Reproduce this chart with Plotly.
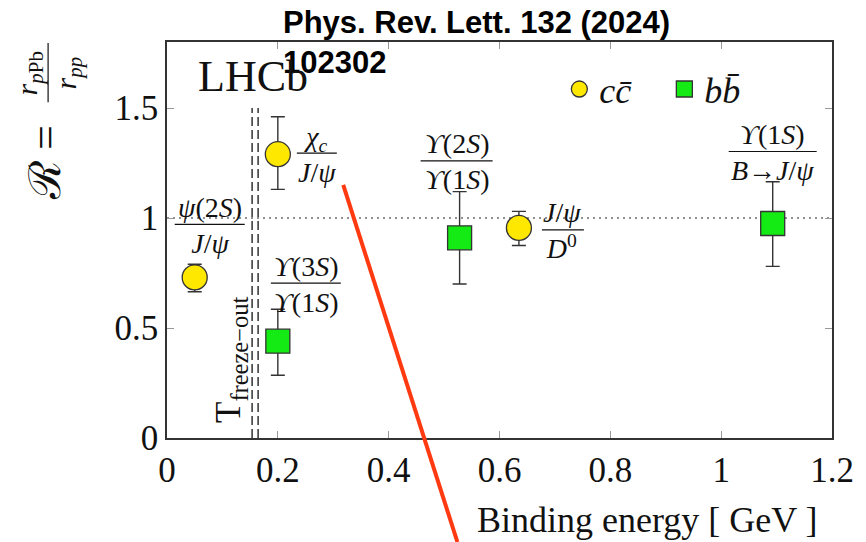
import plotly.graph_objects as go

# ---- data ----
cc_x = [0.05, 0.20, 0.635]
cc_y = [0.73, 1.29, 0.955]
cc_err_plus = [0.06, 0.17, 0.075]
cc_err_minus = [0.065, 0.16, 0.08]
cc_num = ["<i>ψ</i>(2<i>S</i>)", "<i>χ<sub>c</sub></i>", "<i>J</i>/<i>ψ</i>"]
cc_den = ["<i>J</i>/<i>ψ</i>", "<i>J</i>/<i>ψ</i>", "<i>D</i><sup>0</sup>"]

bb_x = [0.20, 0.528, 1.093]
bb_y = [0.44, 0.91, 0.975]
bb_err_plus = [0.145, 0.21, 0.19]
bb_err_minus = [0.155, 0.21, 0.195]
bb_num = ["<i>ϒ</i>(3<i>S</i>)", "<i>ϒ</i>(2<i>S</i>)", "<i>ϒ</i>(1<i>S</i>)"]
bb_den = ["<i>ϒ</i>(1<i>S</i>)", "<i>ϒ</i>(1<i>S</i>)", "<i>B</i>→<i>J</i>/<i>ψ</i>"]

x_ticks = [0, 0.2, 0.4, 0.6, 0.8, 1.0, 1.2]
x_tick_text = ["0", "0.2", "0.4", "0.6", "0.8", "1", "1.2"]
y_ticks = [0, 0.5, 1.0, 1.5]
y_tick_text = ["0", "0.5", "1", "1.5"]

T_FREEZE = 0.159
T_FREEZE_TOP = 1.5
REF_LEVEL = 1.0

SERIF = "Liberation Serif"
YELLOW = "#FFE800"
GREEN = "#14EA14"
EDGE = "#333333"
INK = "#111111"

fig = go.Figure()

fig.add_trace(go.Scatter(
    x=cc_x, y=cc_y, mode="markers", name="<i>cc\u0304</i>",
    marker=dict(symbol="circle", size=25, color=YELLOW, line=dict(color=EDGE, width=1.3)),
    error_y=dict(type="data", symmetric=False, array=cc_err_plus, arrayminus=cc_err_minus,
                 color=EDGE, thickness=1.4, width=7),
))
fig.add_trace(go.Scatter(
    x=bb_x, y=bb_y, mode="markers", name="<i>bb\u0304</i>",
    marker=dict(symbol="square", size=24, color=GREEN, line=dict(color=EDGE, width=1.3)),
    error_y=dict(type="data", symmetric=False, array=bb_err_plus, arrayminus=bb_err_minus,
                 color=EDGE, thickness=1.4, width=7),
))

# reference line at R = 1 (dotted)
fig.add_shape(type="line", xref="paper", x0=0, x1=1, yref="y", y0=REF_LEVEL, y1=REF_LEVEL,
              line=dict(color="#222222", width=1.1, dash="2px,4px"), layer="below")

# double dashed freeze-out line
for off in (-3, 3):
    fig.add_shape(type="line", xref="x", xsizemode="pixel", xanchor=T_FREEZE, x0=off, x1=off,
                  yref="y", y0=0, y1=T_FREEZE_TOP,
                  line=dict(color="#333333", width=1.5, dash="9px,4px"), layer="below")

fig.add_annotation(x=T_FREEZE, y=0.355, xref="x", yref="y", xshift=-24,
                   text="T<sub>freeze−out</sub>", textangle=-90, showarrow=False,
                   font=dict(family=SERIF, size=35, color=INK), xanchor="center", yanchor="middle")

# point labels (fraction: numerator / denominator with a bar)
lab_font = dict(family=SERIF, size=28, color=INK)
# (xshift, yshift, anchor, bar width) in pixels
cc_lab_style = [(15, 52, "center", 70), (18, 0, "left", 40), (22, -3, "left", 42)]
bb_lab_style = [(28, 57, "center", 70), (-3, 76, "center", 72), (0, 71, "center", 88)]

def add_fraction(xv, yv, num, den, style):
    dx, dy, xa, w = style
    fig.add_annotation(x=xv, y=yv, text=num + "<br>" + den, showarrow=False, xshift=dx, yshift=dy,
                       xanchor=xa, yanchor="middle", font=lab_font, align="center")
    if xa == "center":
        bx0, bx1 = dx - w / 2, dx + w / 2
    else:
        bx0, bx1 = dx + 1, dx + 1 + w
    fig.add_shape(type="line", xref="x", yref="y", xsizemode="pixel", ysizemode="pixel",
                  xanchor=xv, yanchor=yv, x0=bx0, x1=bx1, y0=dy + 1, y1=dy + 1,
                  line=dict(color=INK, width=1.2))

for xv, yv, n, d, s in zip(cc_x, cc_y, cc_num, cc_den, cc_lab_style):
    add_fraction(xv, yv, n, d, s)
for xv, yv, n, d, s in zip(bb_x, bb_y, bb_num, bb_den, bb_lab_style):
    add_fraction(xv, yv, n, d, s)

# LHCb
fig.add_annotation(x=0.043, y=0.912, xref="paper", yref="paper", text="LHCb", showarrow=False,
                   xanchor="left", yanchor="middle", font=dict(family=SERIF, size=44, color=INK))

# y-axis label: R = r_pPb / r_pp
fig.add_annotation(x=-0.183, y=0.695, xref="paper", yref="paper", text="ℛ =", textangle=-90,
                   showarrow=False, xanchor="center", yanchor="middle",
                   font=dict(family=SERIF, size=44, color=INK))
fig.add_annotation(x=-0.1788, y=0.921, xref="paper", yref="paper",
                   text="<i>r</i><sub><i>p</i>Pb</sub><br><i>r</i><sub><i>pp</i></sub>",
                   textangle=-90, showarrow=False, xanchor="center", yanchor="middle",
                   font=dict(family=SERIF, size=30, color=INK), align="center")
fig.add_shape(type="line", xref="paper", yref="paper", x0=-0.1788, x1=-0.1788, y0=0.848, y1=0.9975,
              line=dict(color=INK, width=1.2))

# x-axis label
fig.add_annotation(x=0.982, y=-0.207, xref="paper", yref="paper", text="Binding energy [ GeV ]",
                   showarrow=False, xanchor="right", yanchor="middle",
                   font=dict(family=SERIF, size=36, color=INK))

# red overlay stroke
fig.add_shape(type="line", xref="paper", yref="paper", x0=0.265, y0=0.639, x1=0.4367, y1=-0.2626,
              line=dict(color="#FF3A10", width=4), layer="above")

axis_common = dict(showgrid=False, zeroline=False, showline=True, linecolor="#333333", linewidth=1.5,
                   mirror="ticks", ticks="inside", ticklen=7, tickcolor="#999999", tickwidth=1,
                   tickfont=dict(family=SERIF, size=35, color=INK))

fig.update_layout(
    width=866, height=542,
    margin=dict(l=167, r=28, t=42, b=104),
    paper_bgcolor="white", plot_bgcolor="white",
    title=dict(text="<b>Phys. Rev. Lett. 132 (2024)<br>102302</b>",
               xref="container", x=0.3268, xanchor="left",
               yref="container", y=0.94, yanchor="top",
               font=dict(family="Liberation Sans", size=31, color="black")),
    xaxis=dict(range=[0, 1.2], tickvals=x_ticks, ticktext=x_tick_text, **axis_common),
    yaxis=dict(range=[0, 1.8], tickvals=y_ticks, ticktext=y_tick_text, **axis_common),
    legend=dict(orientation="h", x=0.59, y=0.881, xanchor="left", yanchor="middle",
                font=dict(family=SERIF, size=36, color=INK), bgcolor="rgba(0,0,0,0)",
                entrywidth=60, itemwidth=30),
    showlegend=True,
)

fig.write_html("out.html")
